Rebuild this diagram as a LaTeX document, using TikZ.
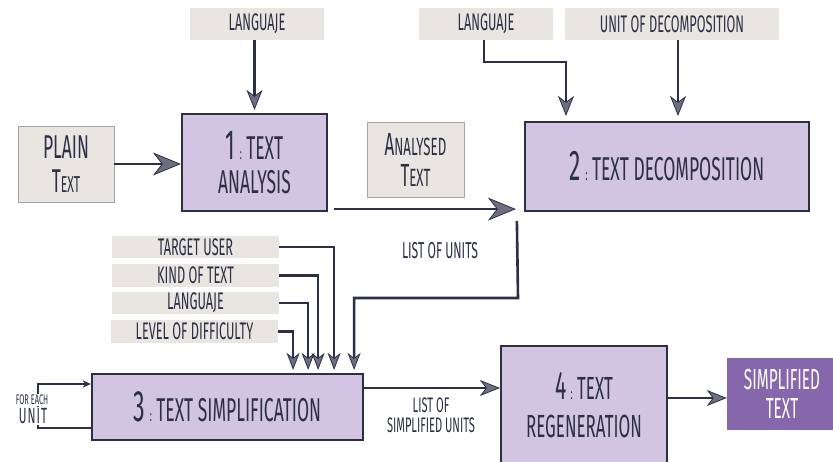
\documentclass[tikz,border=0pt]{standalone}
\usepackage{fontspec}
\setmainfont{Fira Sans}[FakeStretch=0.53]
\usetikzlibrary{arrows.meta,calc}
\definecolor{ink}{HTML}{2C2F45}
\definecolor{lav}{HTML}{D2C5E1}
\definecolor{gbg}{HTML}{E9E5E1}
\definecolor{gbd}{HTML}{A7A3A6}
\definecolor{hg}{HTML}{6F6E80}
\definecolor{pur}{HTML}{8767AC}
\newcommand\fs[1]{\fontsize{#1}{#1}\selectfont}
\newcommand\smcolon{{\fs{16}\;:\;}}
\begin{document}
\begin{tikzpicture}[x=1pt,y=-1pt,
  lbl/.style={fill=gbg,draw=none,inner sep=0pt,text=ink,font=\fs{24}},
  gboxb/.style={fill=gbg,draw=gbd,line width=0.8pt,inner sep=0pt,text=ink,align=center},
  pbox/.style={fill=lav,draw=ink,line width=2.2pt,inner sep=0pt,text=ink,align=center},
  conn/.style={draw=ink,line width=2.6pt},
  bighead/.style={-{Stealth[length=28pt,width=23pt,inset=9pt,fill=hg,line width=0.8pt]}},
  midhead/.style={-{Stealth[length=20pt,width=16pt,inset=6pt,fill=hg,line width=0.8pt]}},
  smhead/.style={-{Stealth[length=17pt,width=13pt,inset=5pt,fill=hg,line width=0.8pt]}},
  tinyhead/.style={-{Stealth[length=8pt,width=7pt,inset=2pt]}},
  txt/.style={text=ink,inner sep=0pt,align=center}]
\useasboundingbox (0,0) rectangle (833,462);
\fill[white] (0,0) rectangle (833,462);

% top labels
\node[lbl,minimum width=134pt,minimum height=32pt] (lang1) at (257,24) {LANGUAJE};
\node[lbl,minimum width=134pt,minimum height=32pt] (lang2) at (486,24) {LANGUAJE};
\node[lbl,minimum width=214pt,minimum height=32pt] (unit) at (672,24) {UNIT OF DECOMPOSITION};

% main boxes
\node[pbox,minimum width=145pt,minimum height=97pt,font=\fontsize{33}{34}\selectfont] (b1) at (254.5,162.5)
  {{\fs{42}1}\smcolon TEXT\\ANALYSIS};
\node[gboxb,minimum width=96pt,minimum height=76pt,font=\fontsize{33}{34}\selectfont] (plain) at (66,164)
  {PLAIN\\T{\fs{23}EXT}};
\node[gboxb,minimum width=97pt,minimum height=75pt,font=\fontsize{32}{31}\selectfont] (anal) at (415.5,159.5)
  {A{\fs{25}NALYSED}\\T{\fs{25}EXT}};
\node[pbox,minimum width=284pt,minimum height=89pt,font=\fs{33}] (b2) at (667,166.5)
  {{\fs{43}2}\smcolon TEXT DECOMPOSITION};

% inputs to step 3
\node[lbl,minimum width=167pt,minimum height=22pt] (tu) at (195.5,247) {TARGET USER};
\node[lbl,minimum width=167pt,minimum height=23pt] (kt) at (195.5,275.5) {KIND OF TEXT};
\node[lbl,minimum width=167pt,minimum height=22pt] (lg) at (195.5,303) {LANGUAJE};
\node[lbl,minimum width=167pt,minimum height=23pt] (ld) at (194.5,331.5) {LEVEL OF DIFFICULTY};

\node[pbox,minimum width=271pt,minimum height=66pt,font=\fs{33}] (b3) at (227.5,407)
  {{\fs{44}3}\smcolon TEXT SIMPLIFICATION};
\node[pbox,minimum width=166pt,minimum height=118pt,font=\fontsize{32}{38}\selectfont] (b4) at (584,405)
  {{\fs{40}4}\smcolon TEXT\\REGENERATION};
\node[fill=pur,draw=none,inner sep=0pt,text=white,align=center,minimum width=110pt,minimum height=72pt,
  font=\fontsize{29}{29}\selectfont] (simp) at (782,394) {SIMPLIFIED\\TEXT};

% labels
\node[txt,font=\fs{23}] (lu) at (440,251) {LIST OF UNITS};
\node[txt,font=\fontsize{21}{20}\selectfont] (lsu) at (431,415) {LIST OF\\SIMPLIFIED UNITS};

% coordinates
\coordinate (c1) at (518,298);
\coordinate (c2) at (484,62);
\coordinate (c3) at (38,428);
\coordinate (c4) at (38,384);

% connectors
\draw[conn,midhead,shorten >=3pt] (b1.north |- lang1.south) -- (b1.north);
\draw[conn,bighead] (plain.east) -- (plain.east -| b1.west);
\draw[conn,bighead] ([xshift=6pt,yshift=3pt]b1.south east) -- ([xshift=-8pt,yshift=3pt]b2.south west);
\draw[conn,midhead,shorten >=5pt] (lang2.south -| c2) -- (c2) -| ([xshift=-101pt]b2.north);
\draw[conn,midhead,shorten >=5pt] ([xshift=6pt]unit.south) -- ([xshift=6pt]unit.south |- b2.north);
\draw[conn,smhead,shorten >=3pt] ([xshift=-7pt]b2.south west |- 0,221) -- (c1) -| ([xshift=-10pt]b3.north east);
\draw[conn,smhead,shorten >=3pt] (tu.east) -| ([xshift=-30pt]b3.north east);
\draw[conn,smhead,shorten >=3pt] (kt.east) -| ([xshift=-46pt]b3.north east);
\draw[conn,smhead,shorten >=3pt] (lg.east) -| ([xshift=-56pt]b3.north east);
\draw[conn,smhead,shorten >=3pt] (ld.east) -| ([xshift=-71pt]b3.north east);
\draw[draw=ink,line width=2pt,tinyhead] ([yshift=-21pt]b3.west) -- (c3) -- (c4) -- (c4 -| b3.west);
\draw[conn,line width=2.2pt,midhead] ([yshift=19pt]b3.east) -- ([yshift=19pt]b3.east -| b4.west);
\draw[conn,midhead] ([yshift=7pt]b4.east) -- ([yshift=7pt]b4.east -| simp.west);

% loop labels (white background over the loop line)
\node[txt,fill=white,font=\fs{14},inner sep=1pt] (fe1) at (32,400) {FOR EACH};
\node[txt,fill=white,font=\fs{22},inner sep=1pt] (fe2) at (33,416) {U\kern1ptN\kern1ptI\kern1ptT};
\end{tikzpicture}
\end{document}
